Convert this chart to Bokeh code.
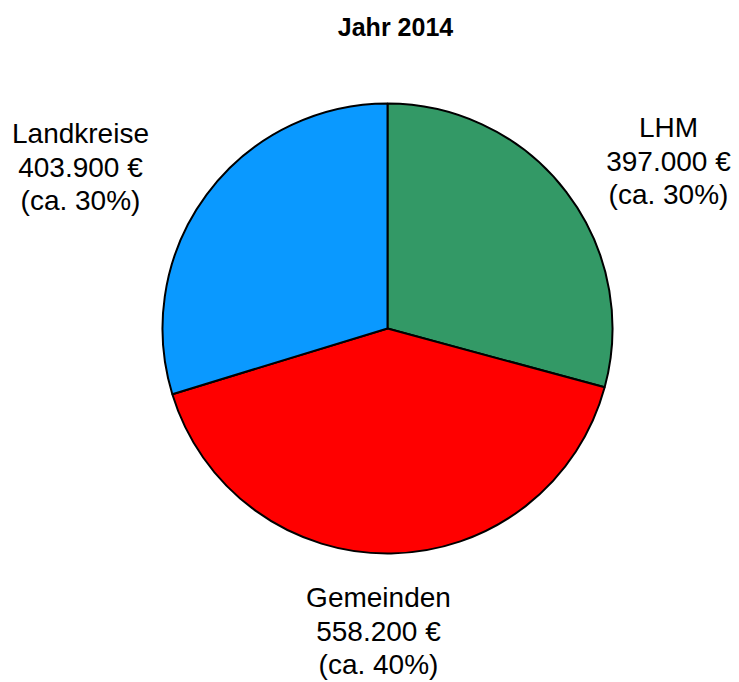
import math
from bokeh.plotting import figure
from bokeh.models import Range1d, ColumnDataSource
from bokeh.core.properties import value
from bokeh.embed import file_html
from bokeh.resources import INLINE

# ---- data ----
title = "Jahr 2014"
categories = ["LHM", "Gemeinden", "Landkreise"]
amounts = [397000, 558200, 403900]
amount_labels = ["397.000 €", "558.200 €", "403.900 €"]
pct_labels = ["(ca. 30%)", "(ca. 40%)", "(ca. 30%)"]
colors = ["#339966", "#FF0000", "#0A99FF"]

# ---- layout ----
W, H = 739, 682
cx, cy, r = 387, 328, 225
label_pos = [(668, 127), (378, 597), (80, 133)]  # (x, top line center y) in pixels
line_step = 33.5

def Y(py):
    return H - py

p = figure(width=W, height=H, output_backend="svg", toolbar_location=None,
           x_range=Range1d(0, W), y_range=Range1d(0, H),
           x_axis_type=None, y_axis_type=None, min_border=0)
p.grid.visible = False
p.outline_line_color = None
p.background_fill_color = "white"
p.border_fill_color = "white"

total = float(sum(amounts))
starts, ends = [], []
cum = 0.0
for a in amounts:
    frac0 = cum / total
    cum += a
    frac1 = cum / total
    # clockwise from 12 o'clock
    starts.append(math.pi / 2 - 2 * math.pi * frac1)
    ends.append(math.pi / 2 - 2 * math.pi * frac0)

src = ColumnDataSource(dict(x=[cx] * len(amounts), y=[Y(cy)] * len(amounts),
                            start=starts, end=ends, color=colors))
p.wedge(x="x", y="y", radius=r, start_angle="start", end_angle="end",
        fill_color="color", line_color="black", line_width=2, source=src)

tx, ty, tt = [], [], []
for i, c in enumerate(categories):
    lx, ly = label_pos[i]
    for k, t in enumerate([c, amount_labels[i], pct_labels[i]]):
        tx.append(lx)
        ty.append(Y(ly + k * line_step))
        tt.append(t)
p.text(x=tx, y=ty, text=tt, text_font=value("Liberation Sans"),
       text_font_size="28px", text_align="center", text_baseline="middle",
       text_color="black")

p.text(x=[395], y=[Y(26)], text=[title], text_font=value("Liberation Sans"),
       text_font_size="25px", text_font_style="bold", text_align="center",
       text_baseline="middle", text_color="black")

open("out.html", "w").write(file_html(p, INLINE))
